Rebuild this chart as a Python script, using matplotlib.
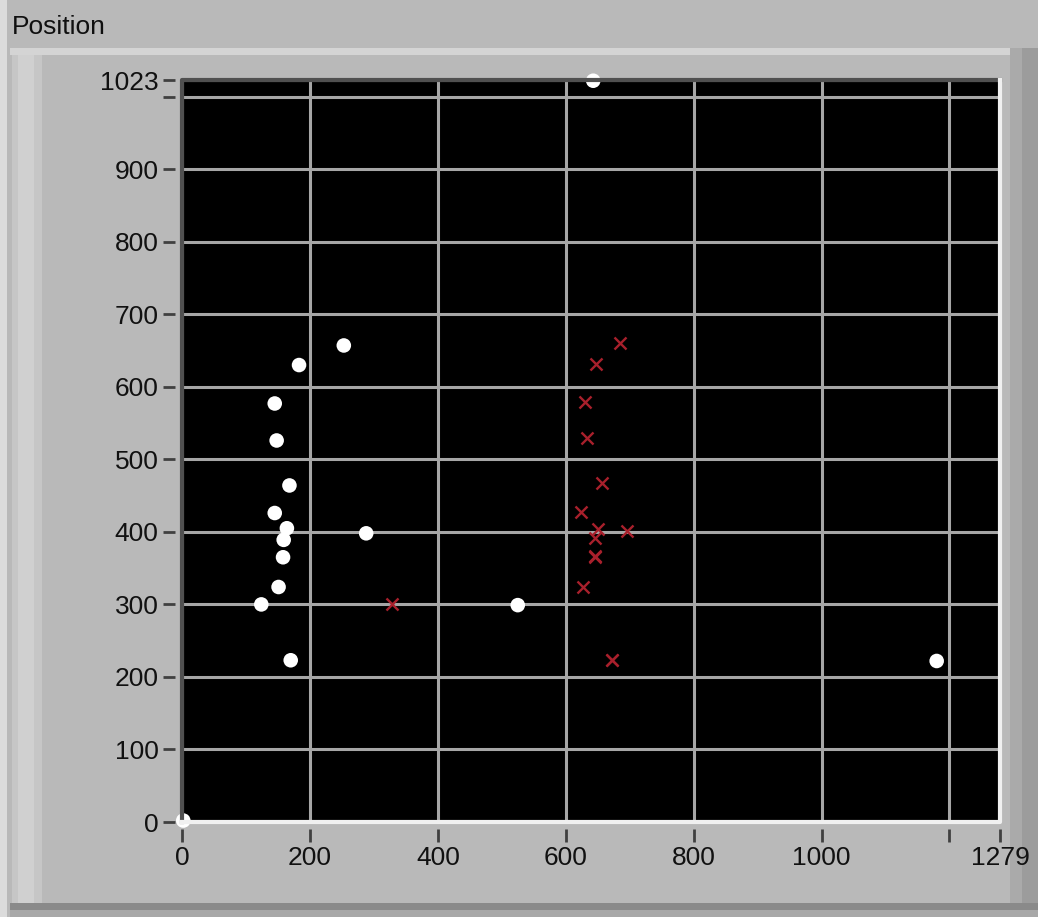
import matplotlib
matplotlib.use("Agg")
import matplotlib.pyplot as plt
from matplotlib.patches import Rectangle
import numpy as np

# Measured positions (pixels on the detector): white = tracked points, red = reference marks
white_x = [643, 253, 183, 145, 148, 168, 145, 164, 159, 158, 288, 151, 124, 170, 525, 1180, 2]
white_y = [1022, 657, 630, 577, 526, 464, 426, 405, 389, 365, 398, 324, 300, 223, 299, 222, 2]

red_x = [685, 648, 630, 633, 657, 624, 650, 646, 696, 646, 646, 627, 328, 673, 673]
red_y = [660, 632, 579, 529, 467, 427, 404, 391, 401, 365, 367, 324, 300, 223, 224]

x_ticks = [0, 200, 400, 600, 800, 1000, 1200, 1279]
x_labels = ["0", "200", "400", "600", "800", "1000", "", "1279"]
y_ticks = [0, 100, 200, 300, 400, 500, 600, 700, 800, 900, 1000, 1023]
y_labels = ["0", "100", "200", "300", "400", "500", "600", "700", "800", "900", "", "1023"]

W, H = 1038, 917
fig = plt.figure(figsize=(W / 100, H / 100), dpi=100)
fig.patch.set_facecolor("#b9b9b9")


def px_rect(x0, y0, x1, y1, color):
    fig.patches.append(Rectangle((x0 / W, 1 - y1 / H), (x1 - x0) / W, (y1 - y0) / H,
                                 transform=fig.transFigure, facecolor=color,
                                 edgecolor="none", zorder=-5))


# Panel frame with bevelled edges
px_rect(0, 0, 7, H, "#dcdcdc")
px_rect(10, 48, 1010, 55, "#d4d4d4")
px_rect(12, 55, 42, 905, "#c6c6c6")
px_rect(18, 55, 34, 905, "#d0d0d0")
px_rect(1010, 48, 1038, H, "#9c9c9c")
px_rect(1010, 48, 1022, H, "#aaaaaa")
px_rect(10, 903, 1038, 910, "#8a8a8a")
px_rect(10, 910, 1038, H, "#a8a8a8")

fig.text(12 / W, 1 - 27 / H, "Position", fontsize=19, family="Liberation Sans",
         color="#101010", va="center", ha="left")

ax = fig.add_axes([182 / W, 1 - 822 / H, (1000 - 182) / W, (822 - 80) / H])
ax.set_facecolor("black")
ax.set_xlim(0, 1279)
ax.set_ylim(0, 1023)

ax.set_xticks(x_ticks)
ax.set_xticklabels(x_labels)
ax.set_yticks(y_ticks)
ax.set_yticklabels(y_labels)

ax.grid(True, color="#a6a6a6", linewidth=2.2)
for val, gl in zip(x_ticks, ax.get_xgridlines()):
    if val in (1000, 1200):
        gl.set_color("#e8e8e8")
    if val in (0, 1279):
        gl.set_visible(False)
for val, gl in zip(y_ticks, ax.get_ygridlines()):
    if val in (0, 1023):
        gl.set_visible(False)
ax.set_axisbelow(True)

for side in ("left", "bottom"):
    ax.spines[side].set_position(("outward", 5))
for sp in ax.spines.values():
    sp.set_visible(False)

ax.tick_params(axis="both", direction="out", length=9, width=2, color="#404040",
               labelsize=19, labelcolor="#111111", pad=3)
for lbl in ax.get_xticklabels() + ax.get_yticklabels():
    lbl.set_family("Liberation Sans")

# Sunken border around the plot area
ax.plot([0, 0, 1], [0, 1, 1], transform=ax.transAxes, color="#505050", lw=3,
        clip_on=False, zorder=5)
ax.plot([0, 1, 1], [0, 0, 1], transform=ax.transAxes, color="#f0f0f0", lw=3,
        clip_on=False, zorder=5)

ax.scatter(white_x, white_y, s=110, color="white", edgecolors="none", zorder=4,
           clip_on=False)
ax.scatter(red_x, red_y, s=75, marker="x", color="#a8202c", linewidths=1.7, zorder=4)

fig.savefig("out.png", dpi=100, facecolor=fig.get_facecolor())
